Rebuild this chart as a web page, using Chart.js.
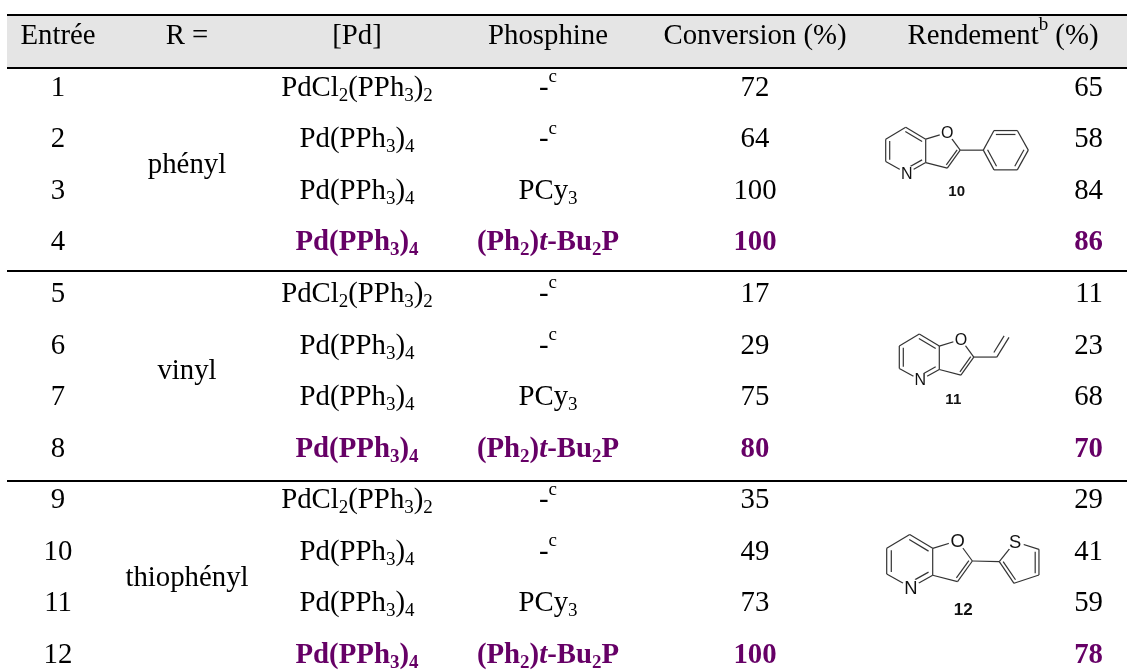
<!DOCTYPE html>
<html lang="fr">
<head>
<meta charset="utf-8">
<title>Entrée / Rendement</title>
<script src="https://cdn.jsdelivr.net/npm/chart.js@4"></script>
<style>
    html, body { margin: 0; background: #fff; }
    canvas { display: block; }
</style>
</head>
<body>
<canvas id="table" width="1127" height="670"></canvas>
<script>
// Cell text. Markup: _x subscript, ^x superscript, *x* italic
const headers = ['Entrée', 'R =', '[Pd]', 'Phosphine', 'Conversion (%)', 'Rendement^b (%)'];
const entries = ['1', '2', '3', '4', '5', '6', '7', '8', '9', '10', '11', '12'];
const groups = ['phényl', 'vinyl', 'thiophényl'];
const catalysts = [
    'PdCl_2(PPh_3)_2', 'Pd(PPh_3)_4', 'Pd(PPh_3)_4', 'Pd(PPh_3)_4',
    'PdCl_2(PPh_3)_2', 'Pd(PPh_3)_4', 'Pd(PPh_3)_4', 'Pd(PPh_3)_4',
    'PdCl_2(PPh_3)_2', 'Pd(PPh_3)_4', 'Pd(PPh_3)_4', 'Pd(PPh_3)_4',
];
const phosphines = [
    '-^c', '-^c', 'PCy_3', '(Ph_2)*t*-Bu_2P',
    '-^c', '-^c', 'PCy_3', '(Ph_2)*t*-Bu_2P',
    '-^c', '-^c', 'PCy_3', '(Ph_2)*t*-Bu_2P',
];
const conversions = [72, 64, 100, 100, 17, 29, 75, 80, 35, 49, 73, 100];
const yields = [65, 58, 84, 86, 11, 23, 68, 70, 29, 41, 59, 78];
const highlighted = [4, 8, 12];
const compounds = ['10', '11', '12'];

// Layout, in scale units
const X_ENTRY = 58, X_GROUP = 187, X_PD = 357, X_PHOS = 548, X_CONV = 755, X_HEAD_YIELD = 1003, X_YIELD = 1103;
const RULE_LEFT = 7;
const ROW_TOP = -0.376, ROW_HEAD = 0.651, ROW_RULE_1 = 4.585, ROW_RULE_2 = 8.655;
const GROUP_ROWS = [2.5, 6.5, 10.5];

const FONT = '"Liberation Serif", "Times New Roman", serif';
const SANS = '"Liberation Sans", Arial, sans-serif';
const SIZE = 28.8;
const PURPLE = '#660066';

function rule(row) {
    return [{ x: RULE_LEFT, y: row }, { x: 1127, y: row }];
}

function column(x, values) {
    return values.map((v, i) => ({ x, y: i + 1, text: String(v) }));
}

function parseRuns(text) {
    const runs = [];
    let plain = '', italic = false;
    const flush = () => {
        if (plain) runs.push({ s: plain, italic, shift: 0 });
        plain = '';
    };
    for (let i = 0; i < text.length; i++) {
        const c = text[i];
        if (c === '_' || c === '^') {
            flush();
            runs.push({ s: text[++i], italic, shift: c === '_' ? 1 : -1 });
        } else if (c === '*') {
            flush();
            italic = !italic;
        } else {
            plain += c;
        }
    }
    flush();
    return runs;
}

function fontFor(run, bold) {
    const px = run.shift ? SIZE * 0.66 : SIZE;
    return (run.italic ? 'italic ' : '') + (bold ? 'bold ' : '') + px + 'px ' + FONT;
}

function drawRich(ctx, text, x, y, align, bold, color) {
    const runs = parseRuns(text);
    let width = 0;
    runs.forEach((r) => {
        ctx.font = fontFor(r, bold);
        width += ctx.measureText(r.s).width;
    });
    let cx = align === 'right' ? x - width : x - width / 2;
    const base = y + 9.5;
    ctx.fillStyle = color;
    ctx.textAlign = 'left';
    ctx.textBaseline = 'alphabetic';
    runs.forEach((r) => {
        ctx.font = fontFor(r, bold);
        const dy = r.shift > 0 ? 5 : r.shift < 0 ? -13.5 : 0;
        ctx.fillText(r.s, cx, base + dy);
        cx += ctx.measureText(r.s).width;
    });
}

// Furopyridine core shared by the three compounds, offsets from the C7 corner
const core = {
    T: [20, -12], TL: [0, 0], BL: [0, 22.4], N: [21, 34], C3a: [40, 23.4], C7a: [40, 0],
    O: [61.6, -6.6], C2: [74.5, 11], C3: [61.6, 29],
};
const pyCentre = [20, 11], furCentre = [58, 11];

const substituents = {
    10: {
        points: { a: [97.6, 11], b: [108.3, -8.6], c: [131.6, -8.6], d: [142.6, 11], e: [131.6, 30.7], f: [108.3, 30.7] },
        bonds: [['C2', 'a'], ['a', 'b'], ['b', 'c'], ['c', 'd'], ['d', 'e'], ['e', 'f'], ['f', 'a']],
        doubles: [['b', 'c'], ['d', 'e'], ['f', 'a']],
        centre: [120, 11],
    },
    11: {
        points: { a: [97.5, 11], b: [109.7, -8.7] },
        bonds: [['C2', 'a'], ['a', 'b']],
        doubles: [['a', 'b']],
        centre: [84, -14],
    },
    12: {
        points: { a: [97.9, 11.6], S: [111.6, -5.7], c: [132.4, 0.9], d: [132.4, 23.2], e: [110.7, 30.4] },
        bonds: [['C2', 'a'], ['a', 'S'], ['S', 'c'], ['c', 'd'], ['d', 'e'], ['e', 'a']],
        doubles: [['c', 'd'], ['e', 'a']],
        centre: [116, 13],
        atom: 'S',
    },
};

const anchors = {
    10: { x: 885.7, row: 2.03, scale: 1, label: [71, 52.4], font: 15 },
    11: { x: 899.3, row: 6.04, scale: 1, label: [54, 54], font: 15 },
    12: { x: 886.7, row: 9.96, scale: 1.15, label: [66.6, 53.6], font: 17 },
};

function drawCompound(ctx, chart, name) {
    const a = anchors[name];
    const sub = substituents[name];
    const ox = chart.scales.x.getPixelForValue(a.x);
    const oy = chart.scales.y.getPixelForValue(a.row);
    const pts = { ...core, ...sub.points };
    const px = (p) => [ox + p[0] * a.scale, oy + p[1] * a.scale];

    const line = (p, q) => {
        const [x1, y1] = px(p), [x2, y2] = px(q);
        ctx.beginPath();
        ctx.moveTo(x1, y1);
        ctx.lineTo(x2, y2);
        ctx.stroke();
    };
    // inner line of a double bond: pull both ends towards the ring centre
    const inner = (p, q, c) => {
        const k = 0.2;
        const mx = (p[0] + q[0]) / 2, my = (p[1] + q[1]) / 2;
        const nudge = (v) => {
            const s = [v[0] + (mx - v[0]) * 0.16, v[1] + (my - v[1]) * 0.16];
            return [s[0] + (c[0] - mx) * k, s[1] + (c[1] - my) * k];
        };
        line(nudge(p), nudge(q));
    };

    ctx.save();
    ctx.strokeStyle = '#333';
    ctx.lineWidth = 1.2;
    [['TL', 'T'], ['T', 'C7a'], ['TL', 'BL'], ['BL', 'N'], ['N', 'C3a'], ['C3a', 'C7a'],
        ['C7a', 'O'], ['O', 'C2'], ['C2', 'C3'], ['C3', 'C3a']].forEach(([p, q]) => line(pts[p], pts[q]));
    [['T', 'C7a'], ['TL', 'BL'], ['N', 'C3a']].forEach(([p, q]) => inner(pts[p], pts[q], pyCentre));
    inner(pts.C2, pts.C3, furCentre);
    sub.bonds.forEach(([p, q]) => line(pts[p], pts[q]));
    sub.doubles.forEach(([p, q]) => inner(pts[p], pts[q], sub.centre));

    // atom labels sit on a white patch so the bonds stop short of them
    const labels = ['N', 'O'].concat(sub.atom ? [sub.atom] : []);
    ctx.textAlign = 'center';
    ctx.textBaseline = 'middle';
    labels.forEach((l) => {
        const [x, y] = px(pts[l]);
        ctx.fillStyle = '#fff';
        ctx.beginPath();
        ctx.arc(x, y, 8 * a.scale, 0, Math.PI * 2);
        ctx.fill();
        ctx.fillStyle = '#111';
        ctx.font = 16 * a.scale + 'px ' + SANS;
        ctx.fillText(l, x, y + 1);
    });
    const [lx, ly] = px(a.label);
    ctx.fillStyle = '#111';
    ctx.font = 'bold ' + a.font + 'px ' + SANS;
    ctx.fillText(name, lx, ly);
    ctx.restore();
}

const cellText = {
    id: 'cellText',
    afterDatasetsDraw(chart) {
        const { ctx } = chart;
        ctx.save();
        chart.data.datasets.forEach((ds, di) => {
            if (!ds.cells) return;
            chart.getDatasetMeta(di).data.forEach((pt, i) => {
                const row = ds.data[i].y;
                const hot = ds.hot && highlighted.includes(row);
                drawRich(ctx, ds.data[i].text, pt.x, pt.y, ds.align || 'center', hot, hot ? PURPLE : '#000');
            });
        });
        compounds.forEach((name) => drawCompound(ctx, chart, name));
        ctx.restore();
    },
};

const cells = (label, data, extra = {}) => ({
    label, data, cells: true, pointRadius: 0, showLine: false, ...extra,
});

const ruleLine = (label, row, extra = {}) => ({
    label, data: rule(row), showLine: true, pointRadius: 0,
    borderColor: '#000', borderWidth: 2, ...extra,
});

new Chart(document.getElementById('table'), {
    type: 'scatter',
    data: {
        datasets: [
            // higher order goes to the back, so the grey band stays under the rule below it
            ruleLine('top', ROW_TOP, { fill: '+1', backgroundColor: '#e5e5e5', order: 1 }),
            ruleLine('head', ROW_HEAD),
            ruleLine('rule1', ROW_RULE_1),
            ruleLine('rule2', ROW_RULE_2),
            cells('headers', [X_ENTRY, X_GROUP, X_PD, X_PHOS, X_CONV, X_HEAD_YIELD].map((x, i) => ({ x, y: 0, text: headers[i] }))),
            cells('entries', column(X_ENTRY, entries)),
            cells('groups', groups.map((g, i) => ({ x: X_GROUP, y: GROUP_ROWS[i], text: g }))),
            cells('catalysts', column(X_PD, catalysts), { hot: true }),
            cells('phosphines', column(X_PHOS, phosphines), { hot: true }),
            cells('conversions', column(X_CONV, conversions), { hot: true }),
            cells('yields', column(X_YIELD, yields), { hot: true, align: 'right' }),
        ],
    },
    options: {
        responsive: false,
        animation: false,
        layout: { padding: 0 },
        scales: {
            x: { type: 'linear', display: false, min: 0, max: 1127 },
            y: { type: 'linear', display: false, reverse: true, min: -0.667, max: 12.318 },
        },
        plugins: {
            legend: { display: false },
            tooltip: { enabled: false },
        },
    },
    plugins: [cellText],
});
</script>
</body>
</html>
